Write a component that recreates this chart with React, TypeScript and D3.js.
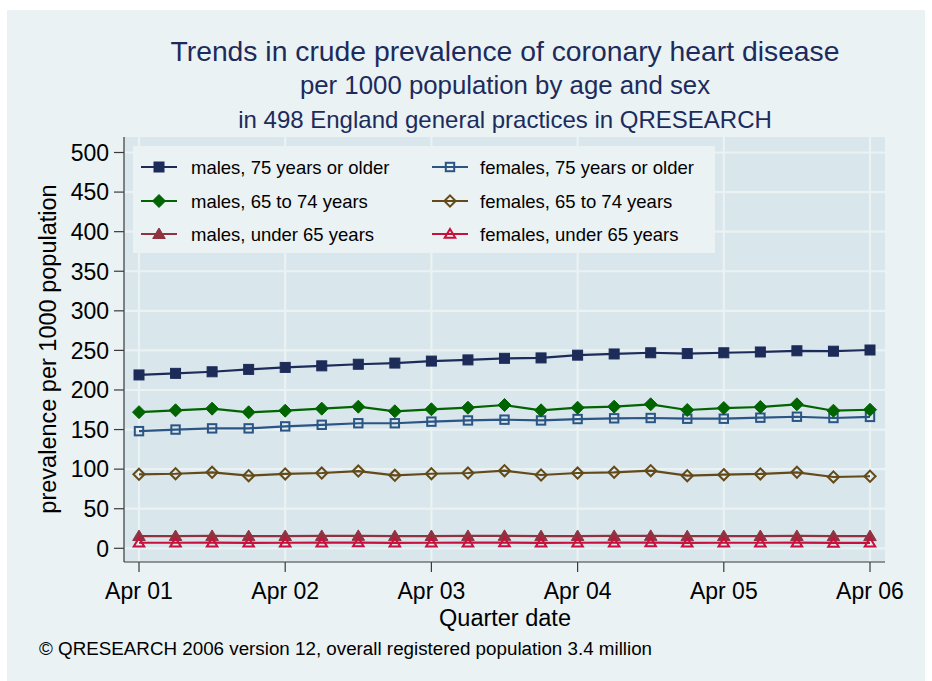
import React from "react";
import * as d3 from "d3";

const quarterLabels = ["Apr 01", "Apr 02", "Apr 03", "Apr 04", "Apr 05", "Apr 06"];
const quarterCount = 21;
const yTicks = [0, 50, 100, 150, 200, 250, 300, 350, 400, 450, 500];

const males75 = [219, 221, 223, 226, 228.5, 230.5, 232.5, 234, 236.5, 238, 240, 240.5, 244, 245.5, 247, 246, 247, 248, 249.5, 249, 250.5];
const females75 = [148, 150, 151.5, 151.5, 154, 156, 158, 158, 160, 161.5, 162.5, 161.5, 163.3, 164.2, 164.6, 163.7, 163.7, 165, 166.2, 164.6, 166];
const males6574 = [172, 174.3, 176.4, 171.8, 173.8, 176.4, 178.9, 173.1, 175.6, 177.6, 181, 174.3, 177.6, 178.9, 181.9, 174.7, 177.2, 178.5, 181.9, 173.8, 175];
const females6574 = [93.5, 94.2, 96, 91.7, 93.9, 95.1, 97.6, 92.2, 94.2, 95.1, 98, 92.6, 95.1, 96, 98, 91.7, 93, 93.9, 96, 90.1, 91];
const malesU65 = [15.5, 15.5, 15.6, 15.4, 15.5, 15.6, 15.7, 15.4, 15.5, 15.6, 15.7, 15.4, 15.5, 15.6, 15.7, 15.3, 15.4, 15.5, 15.6, 15.3, 15.4];
const femalesU65 = [7, 7, 7.1, 6.9, 7, 7.1, 7.2, 6.9, 7, 7.1, 7.2, 6.9, 7, 7.1, 7.2, 6.9, 7, 7, 7.1, 6.8, 6.9];

type Series = { name: string; values: number[]; color: string; shape: string; filled: boolean };

const series: Series[] = [
  { name: "males, 75 years or older", values: males75, color: "#1d2b59", shape: "square", filled: true },
  { name: "females, 75 years or older", values: females75, color: "#2b5584", shape: "square", filled: false },
  { name: "males, 65 to 74 years", values: males6574, color: "#006400", shape: "diamond", filled: true },
  { name: "females, 65 to 74 years", values: females6574, color: "#634a18", shape: "diamond", filled: false },
  { name: "males, under 65 years", values: malesU65, color: "#903341", shape: "triangle", filled: true },
  { name: "females, under 65 years", values: femalesU65, color: "#c8103e", shape: "triangle", filled: false },
];

const W = 932;
const H = 681;
const plot = { left: 124, right: 885, top: 137, bottom: 562 };
const font = "'Liberation Sans', Arial, sans-serif";

function Marker({ x, y, s }: { x: number; y: number; s: Series }) {
  const fill = s.filled ? s.color : "none";
  const sw = s.filled ? 1 : 2;
  if (s.shape === "square") {
    const h = s.filled ? 5 : 4.2;
    return <rect x={x - h} y={y - h} width={2 * h} height={2 * h} fill={fill} stroke={s.color} strokeWidth={sw} />;
  }
  if (s.shape === "diamond") {
    const h = s.filled ? 6.5 : 5.6;
    return <path d={`M${x},${y - h}L${x + h},${y}L${x},${y + h}L${x - h},${y}Z`} fill={fill} stroke={s.color} strokeWidth={sw} />;
  }
  const h = s.filled ? 6 : 5;
  return (
    <path
      d={`M${x},${y - h}L${x + h * 1.05},${y + h * 0.75}L${x - h * 1.05},${y + h * 0.75}Z`}
      fill={fill}
      stroke={s.color}
      strokeWidth={sw}
      strokeLinejoin="miter"
    />
  );
}

export default function App() {
  const x = d3.scaleLinear().domain([0, quarterCount - 1]).range([139, 870]);
  const y = d3.scaleLinear().domain([0, 500]).range([548.3, 152.5]);
  const line = d3
    .line<number>()
    .x((_, i) => x(i))
    .y((d) => y(d));
  const xTickIdx = quarterLabels.map((_, i) => i * 4);

  const legendRows = [
    [series[0], series[1]],
    [series[2], series[3]],
    [series[4], series[5]],
  ];
  const rowY = [167, 201, 234];
  const colX = [141, 432];

  return (
    <svg width={W} height={H} style={{ position: "absolute", left: 0, top: 0, fontFamily: font }}>
      <rect x={0} y={0} width={W} height={H} fill="#ffffff" />
      <rect x={7} y={10} width={918} height={671} fill="#eaf2f3" />
      <rect x={plot.left} y={plot.top} width={plot.right - plot.left} height={plot.bottom - plot.top} fill="#d9e6ec" />
      {yTicks.map((t) => (
        <line key={"gy" + t} x1={plot.left} x2={plot.right} y1={y(t)} y2={y(t)} stroke="#eaf2f3" strokeWidth={2.2} />
      ))}
      {xTickIdx.map((t) => (
        <line key={"gx" + t} x1={x(t)} x2={x(t)} y1={plot.top} y2={plot.bottom} stroke="#eaf2f3" strokeWidth={2.2} />
      ))}
      {/* axes */}
      <line x1={plot.left} x2={plot.left} y1={plot.top} y2={plot.bottom} stroke="#3a3a3a" strokeWidth={1.2} />
      <line x1={plot.left} x2={plot.right} y1={plot.bottom} y2={plot.bottom} stroke="#3a3a3a" strokeWidth={1.2} />
      {yTicks.map((t) => (
        <g key={"yt" + t}>
          <line x1={114} x2={plot.left} y1={y(t)} y2={y(t)} stroke="#3a3a3a" strokeWidth={1.2} />
          <text x={109} y={y(t)} dy="0.36em" textAnchor="end" fontSize={23} fill="#000">
            {t}
          </text>
        </g>
      ))}
      {xTickIdx.map((t, i) => (
        <g key={"xt" + t}>
          <line x1={x(t)} x2={x(t)} y1={plot.bottom} y2={572} stroke="#3a3a3a" strokeWidth={1.2} />
          <text x={x(t)} y={599} textAnchor="middle" fontSize={23} fill="#000">
            {quarterLabels[i]}
          </text>
        </g>
      ))}
      {/* series */}
      {series.map((s) => (
        <g key={s.name}>
          <path d={line(s.values) || ""} fill="none" stroke={s.color} strokeWidth={2.2} />
          {s.values.map((v, i) => (
            <Marker key={i} x={x(i)} y={y(v)} s={s} />
          ))}
        </g>
      ))}
      {/* legend */}
      <rect x={133} y={146} width={582} height={107} fill="#eaf2f3" />
      {legendRows.map((row, r) =>
        row.map((s, c) => (
          <g key={s.name}>
            <line x1={colX[c]} x2={colX[c] + 36} y1={rowY[r]} y2={rowY[r]} stroke={s.color} strokeWidth={2.2} />
            <Marker x={colX[c] + 18} y={rowY[r]} s={s} />
            <text x={colX[c] + (c === 0 ? 50 : 48)} y={rowY[r]} dy="0.36em" fontSize={18.5} fill="#000">
              {s.name}
            </text>
          </g>
        ))
      )}
      {/* titles */}
      <text x={505} y={61} textAnchor="middle" fontSize={28.3} fill="#1c2b5c">
        Trends in crude prevalence of coronary heart disease
      </text>
      <text x={505} y={94} textAnchor="middle" fontSize={25.8} fill="#1c2b5c">
        per 1000 population by age and sex
      </text>
      <text x={505} y={127.5} textAnchor="middle" fontSize={24} fill="#1c2b5c">
        in 498 England general practices in QRESEARCH
      </text>
      <text x={505} y={626} textAnchor="middle" fontSize={23.5} fill="#000">
        Quarter date
      </text>
      <text transform={`translate(56,349) rotate(-90)`} textAnchor="middle" fontSize={23.5} fill="#000">
        prevalence per 1000 population
      </text>
      <text x={39} y={655} fontSize={18.8} fill="#000">
        © QRESEARCH 2006 version 12, overall registered population 3.4 million
      </text>
    </svg>
  );
}
